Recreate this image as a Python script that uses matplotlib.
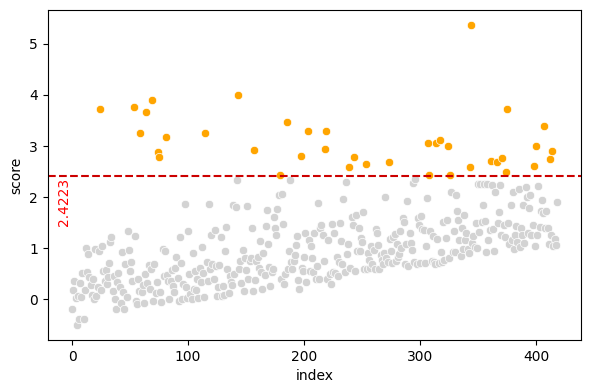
import numpy as np
import matplotlib
matplotlib.use("Agg")
import matplotlib.pyplot as plt
import seaborn as sns

THRESHOLD = 2.4223

# score per index in blocks of 20
scores_000 = [-0.18, 0.19, 0.37, 0.02, -0.50, 0.06, -0.39, 0.32, 0.04, 0.52,
              -0.39, 0.19, 1.01, 0.53, 0.88, 0.43, 0.28, 0.08, 0.41, 0.01,
              0.99, 0.06, 0.25, 0.94, 3.73, 0.19, 1.05, 0.55, 0.37, 0.57,
              0.30, 0.43, 0.71, 1.12, 1.22, 0.17, 0.45, 0.01, -0.19, 0.34,
              0.51, 0.24, -0.06, 0.93, 0.14, -0.19, 0.69, 0.05, 1.34, 0.97,
              0.55, 0.74, 0.37, 3.77, 1.24, -0.03, -0.09, 0.40, 0.17, 3.26,
              0.14, 0.28, -0.07, 0.50, 3.67, 0.32, 0.67, 0.20, 0.60, 3.89,
              -0.03, 0.69, 0.12, 0.35, 2.89, 2.78, 0.15, -0.04, 0.98, 0.45,
              0.94, 3.18, 0.47, 0.37, 0.01, 0.36, 0.57, 0.27, 0.15, 0.62,
              0.84, 0.42, -0.03, 1.23, 0.71, 0.01, 0.30, 1.87, 0.24, 0.02]
scores_100 = [1.34, 0.49, 0.11, 0.00, 0.91, 0.20, 0.55, 0.19, 0.40, 0.02,
              0.61, 0.35, 1.03, 0.52, 0.05, 3.25, 0.74, 0.37, 1.86, 0.60,
              1.27, 0.70, 0.41, 1.36, 0.65, 0.06, 0.24, 0.68, 1.23, 0.07,
              0.27, 0.08, 0.95, 1.42, 0.59, 0.12, 0.45, 0.34, 0.28, 1.84,
              0.50, 1.80, 2.33, 3.99, 0.60, 0.76, 0.32, 0.96, 0.17, 0.81,
              0.57, 1.83, 0.41, 0.76, 0.81, 1.40, 0.17, 2.92, 0.39, 0.76,
              0.83, 0.62, 1.14, 0.53, 0.20, 0.91, 0.47, 1.44, 1.75, 1.08,
              0.63, 0.27, 0.53, 0.60, 1.62, 1.40, 1.26, 1.77, 2.04, 2.44,
              0.41, 2.07, 1.48, 0.30, 0.50, 3.47, 0.60, 0.94, 2.33, 0.74,
              0.59, 0.76, 0.86, 1.06, 1.25, 0.39, 0.20, 2.80, 0.61, 0.55]
scores_200 = [0.84, 1.30, 0.35, 3.29, 1.16, 0.55, 1.05, 0.81, 0.53, 1.30,
              0.41, 0.65, 1.89, 0.40, 1.39, 1.46, 1.27, 0.76, 2.94, 3.30,
              0.41, 1.16, 0.50, 0.30, 1.48, 0.53, 1.30, 0.51, 0.83, 0.45,
              0.74, 1.49, 1.14, 0.70, 1.97, 0.53, 2.29, 0.88, 1.08, 2.58,
              0.62, 1.62, 1.46, 2.78, 0.55, 1.65, 0.95, 1.40, 0.95, 1.21,
              1.13, 1.71, 0.60, 2.64, 0.60, 0.90, 0.78, 0.61, 1.05, 0.70,
              0.96, 0.60, 1.37, 1.30, 1.07, 0.59, 0.86, 0.78, 0.70, 0.91,
              2.00, 0.81, 0.73, 2.68, 1.19, 0.94, 0.72, 1.23, 1.28, 0.76,
              1.09, 0.83, 0.88, 1.34, 1.01, 1.59, 1.52, 0.70, 1.09, 1.92,
              0.65, 1.30, 1.11, 0.97, 2.27, 0.73, 2.36, 0.70, 1.59, 1.46]
scores_300 = [0.71, 1.64, 1.37, 1.36, 0.71, 1.05, 1.98, 3.06, 2.44, 1.34,
              0.76, 1.25, 0.73, 0.70, 3.06, 1.19, 0.72, 3.12, 0.93, 0.74,
              1.52, 0.78, 1.21, 1.55, 3.00, 0.81, 2.43, 2.11, 0.93, 1.34,
              0.92, 2.05, 1.72, 1.55, 1.16, 0.85, 1.39, 0.99, 1.65, 1.16,
              1.29, 0.98, 0.90, 2.58, 5.37, 1.11, 1.25, 1.03, 1.50, 1.01,
              2.25, 1.32, 2.25, 1.51, 1.85, 2.25, 1.54, 0.93, 2.25, 1.16,
              1.36, 2.70, 2.23, 1.38, 0.94, 2.10, 2.68, 1.50, 1.71, 2.23,
              1.26, 2.76, 1.46, 1.23, 2.49, 3.73, 1.50, 1.09, 1.85, 1.16,
              2.10, 0.98, 1.27, 1.44, 1.13, 2.15, 1.03, 1.39, 1.27, 1.85,
              1.10, 2.19, 2.00, 1.30, 1.78, 2.04, 1.26, 1.45, 2.60, 1.05]
scores_400 = [3.00, 1.26, 2.21, 1.42, 1.72, 1.95, 1.70, 3.39, 1.40, 1.72,
              1.40, 1.08, 2.74, 1.26, 2.90, 1.05, 1.19, 1.07, 1.90]

scores = np.array(scores_000 + scores_100 + scores_200 + scores_300 + scores_400)
index = np.arange(len(scores))
outlier = scores > THRESHOLD

fig, ax = plt.subplots(figsize=(5.9, 3.9), dpi=100)

sns.scatterplot(x=index[~outlier], y=scores[~outlier], color="lightgray", ax=ax)
sns.scatterplot(x=index[outlier], y=scores[outlier], color="orange", ax=ax)

ax.axhline(THRESHOLD, color="#cc0000", linestyle="--", linewidth=1.5)
ax.text(-1, THRESHOLD - 0.04, f"{THRESHOLD}", color="red", rotation=90,
        ha="right", va="top", fontsize=10)

ax.set_xlabel("index")
ax.set_ylabel("score")
fig.subplots_adjust(left=0.081, right=0.985, top=0.975, bottom=0.128)
fig.savefig("out.png")
